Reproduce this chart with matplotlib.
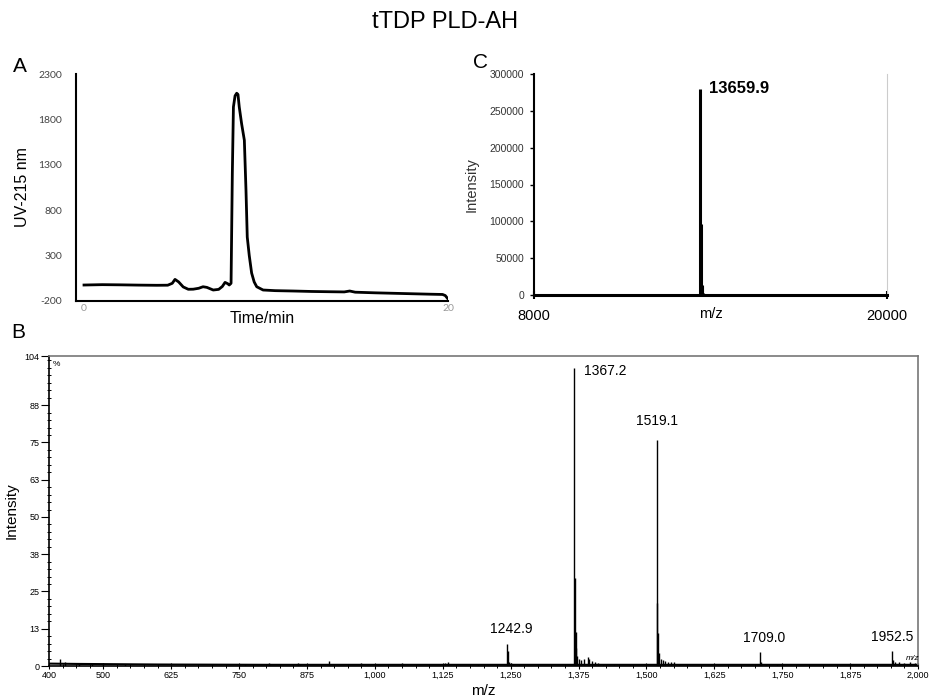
import matplotlib
matplotlib.use("Agg")
import matplotlib.pyplot as plt
from matplotlib.ticker import FixedLocator, MultipleLocator

plt.rcParams['font.family'] = ['Liberation Sans', 'DejaVu Sans']
plt.rcParams['axes.unicode_minus'] = False

# panel A: HPLC trace
time_min = [0, 1, 2, 3, 4, 4.6, 4.85, 5.0, 5.2, 5.45, 5.73, 6.0, 6.3, 6.54, 6.75, 7.1,
            7.4, 7.6, 7.75, 7.9, 7.98, 8.08, 8.15, 8.21, 8.3, 8.39, 8.46, 8.53, 8.66,
            8.81, 8.9, 8.97, 9.08, 9.21, 9.35, 9.49, 9.84, 10.5, 11.5, 12.5, 13.5,
            14.3, 14.6, 14.9, 16, 17, 18, 19, 19.7, 19.85, 20]
uv_215 = [-24, -20, -22, -25, -27, -26, -5, 38, 10, -45, -71, -70, -60, -43, -50, -79,
          -72, -40, 5, -10, -24, -5, 1205, 1937, 2060, 2088, 2075, 1937, 1752,
          1571, 1021, 504, 300, 108, 10, -43, -79, -86, -90, -95, -98,
          -100, -90, -103, -110, -115, -120, -125, -128, -140, -178]

# panel C: deconvoluted mass
mass_mz = [13659.9, 13680, 13700, 13720, 13740]
mass_int = [280000, 97000, 14000, 12000, 3000]

# panel B: ESI spectrum
esi_mz = [420, 430, 455, 480, 500, 540, 600, 650, 700, 760, 805, 858, 862, 915, 975,
          1050, 1130, 1135, 1190, 1242.9, 1245.0, 1247, 1250, 1255, 1265, 1300,
          1367.2, 1368.3, 1369.5, 1371, 1373, 1376, 1380, 1385, 1392, 1395, 1400,
          1405, 1410, 1420, 1440, 1470, 1519.1, 1520.2, 1521.4, 1523, 1526, 1530,
          1535, 1540, 1545, 1550, 1560, 1600, 1709.0, 1711, 1720, 1740, 1800,
          1850, 1952.5, 1954, 1957, 1965, 1975, 1985, 1995]
esi_int = [2.5, 1.2, 1.0, 1.0, 0.9, 0.8, 0.7, 0.6, 0.6, 0.6, 1.0, 0.9, 0.7, 1.8, 0.9,
           0.9, 1.0, 1.2, 0.7, 7.4, 5.0, 1.5, 0.9, 0.8, 0.6, 0.6,
           100, 29.5, 11.5, 6.0, 3.5, 2.5, 2.0, 2.2, 3.0, 2.5, 1.8,
           1.5, 1.0, 0.8, 0.6, 0.7, 75.8, 21.0, 11.0, 4.5, 2.5, 2.0,
           1.6, 1.4, 1.5, 1.2, 0.8, 0.5, 4.7, 1.2, 0.7, 0.6, 0.5,
           0.5, 5.0, 2.0, 1.5, 1.2, 1.0, 1.3, 1.0]
base_mz = [400, 450, 600, 800, 1000, 1400, 2000]
base_int = [0.8, 0.7, 0.5, 0.4, 0.4, 0.4, 0.4]
labels = ['1242.9', '1367.2', '1519.1', '1709.0', '1952.5']
label_mz = [1242.9, 1367.2, 1519.1, 1709.0, 1952.5]
label_int = [7.4, 100, 75.8, 4.7, 5.0]

b_xticks = [400, 500, 625, 750, 875, 1000, 1125, 1250, 1375, 1500, 1625, 1750, 1875, 2000]
b_yticks = [0, 12.5, 25, 37.5, 50, 62.5, 75, 87.5, 104]
b_yticklabels = ['0', '13', '25', '38', '50', '63', '75', '88', '104']

W, H = 930, 697
fig = plt.figure(figsize=(9.3, 6.97), dpi=100)


def box(l, t, r, b):
    return [l / W, 1 - b / H, (r - l) / W, (b - t) / H]


fig.text(445 / W, 1 - 22 / H, 'tTDP PLD-AH', fontsize=17, ha='center', va='center')

# ---- A ----
axA = fig.add_axes(box(76, 74, 448, 301))
axA.plot(time_min, uv_215, color='black', lw=2.0, solid_joinstyle='round')
axA.set_xlim(-0.44, 20)
axA.set_ylim(-200, 2300)
axA.spines['top'].set_visible(False)
axA.spines['right'].set_visible(False)
axA.spines['left'].set_linewidth(1.5)
axA.spines['bottom'].set_linewidth(1.5)
axA.set_yticks([-200, 300, 800, 1300, 1800, 2300])
axA.set_xticks([0, 20])
axA.tick_params(axis='y', length=0, pad=10, labelsize=7.5, labelcolor='#444444')
axA.tick_params(axis='x', length=0, pad=2, labelsize=7.5, labelcolor='#999999')
for lab in axA.get_yticklabels() + axA.get_xticklabels():
    lab.set_family('Lato')
axA.set_ylabel('UV-215 nm', fontsize=11.5, labelpad=6)
axA.set_xlabel('Time/min', fontsize=11.5, labelpad=-1)
fig.text(20 / W, 1 - 66 / H, 'A', fontsize=15, ha='center', va='center')

# ---- C ----
axC = fig.add_axes(box(534, 74, 887, 295))
axC.vlines(mass_mz, 0, mass_int, color='black', lw=2.2)
axC.set_xlim(8000, 20000)
axC.set_ylim(0, 300000)
axC.spines['top'].set_visible(False)
axC.spines['right'].set_color('#cccccc')
axC.spines['left'].set_linewidth(1.5)
axC.spines['bottom'].set_linewidth(2.2)
axC.set_yticks(range(0, 300001, 50000))
axC.set_xticks([8000, 20000])
axC.tick_params(axis='y', length=3, width=1, pad=4, labelsize=7.5, labelcolor='#333333')
axC.tick_params(axis='x', direction='inout', length=6, width=1.5, pad=7, labelsize=10.5)
axC.set_ylabel('Intensity', fontsize=10.5, color='#333333', labelpad=8)
axC.text(14000, -300000 * 19 / 221, 'm/z', fontsize=10.5, ha='center', va='center',
         clip_on=False)
axC.text(mass_mz[0] + 300, mass_int[0], '13659.9', fontsize=12, fontweight='bold',
         ha='left', va='center')
fig.text(480 / W, 1 - 62 / H, 'C', fontsize=15, ha='center', va='center')

# ---- B ----
axB = fig.add_axes(box(49, 356, 918, 666))
axB.plot(base_mz, base_int, color='black', lw=1.5)
axB.vlines(esi_mz, 0, esi_int, color='black', lw=1.0)
axB.set_xlim(400, 2000)
axB.set_ylim(0, 104)
for s in ['top', 'right']:
    axB.spines[s].set_color('#777777')
    axB.spines[s].set_linewidth(1.2)
axB.spines['left'].set_linewidth(1.2)
axB.spines['bottom'].set_linewidth(1.2)
axB.xaxis.set_major_locator(FixedLocator(b_xticks))
axB.set_xticklabels([f'{v:,}' for v in b_xticks])
axB.xaxis.set_minor_locator(MultipleLocator(25))
axB.yaxis.set_major_locator(FixedLocator(b_yticks))
axB.set_yticklabels(b_yticklabels)
axB.yaxis.set_minor_locator(MultipleLocator(2.5))
axB.tick_params(axis='both', which='major', labelsize=6.5, width=0.8)
axB.tick_params(axis='y', which='major', direction='out', length=6, pad=1)
axB.tick_params(axis='x', which='major', direction='inout', length=5, pad=1)
axB.tick_params(axis='both', which='minor', direction='inout', length=3, width=0.7)
axB.set_ylabel('Intensity', fontsize=11, labelpad=4)
axB.set_xlabel('m/z', fontsize=11, labelpad=3)
offsets = [(8, 2.5), (6, 0), (0, 4), (8, 2.5), (0, 2.5)]
for lab, x, y, (dx, dy) in zip(labels, label_mz, label_int, offsets):
    if lab == '1367.2':
        axB.text(x + 18, y - 1.0, lab, fontsize=10, ha='left', va='center')
    else:
        axB.text(x + dx, y + dy, lab, fontsize=10, ha='center', va='bottom')
axB.text(407, 101, '%', fontsize=6, ha='left', va='center')
axB.text(1990, 1.2, 'm/z', fontsize=6, style='italic', ha='center', va='bottom')
fig.text(18 / W, 1 - 333 / H, 'B', fontsize=15, ha='center', va='center')

fig.savefig('out.png', dpi=100)
